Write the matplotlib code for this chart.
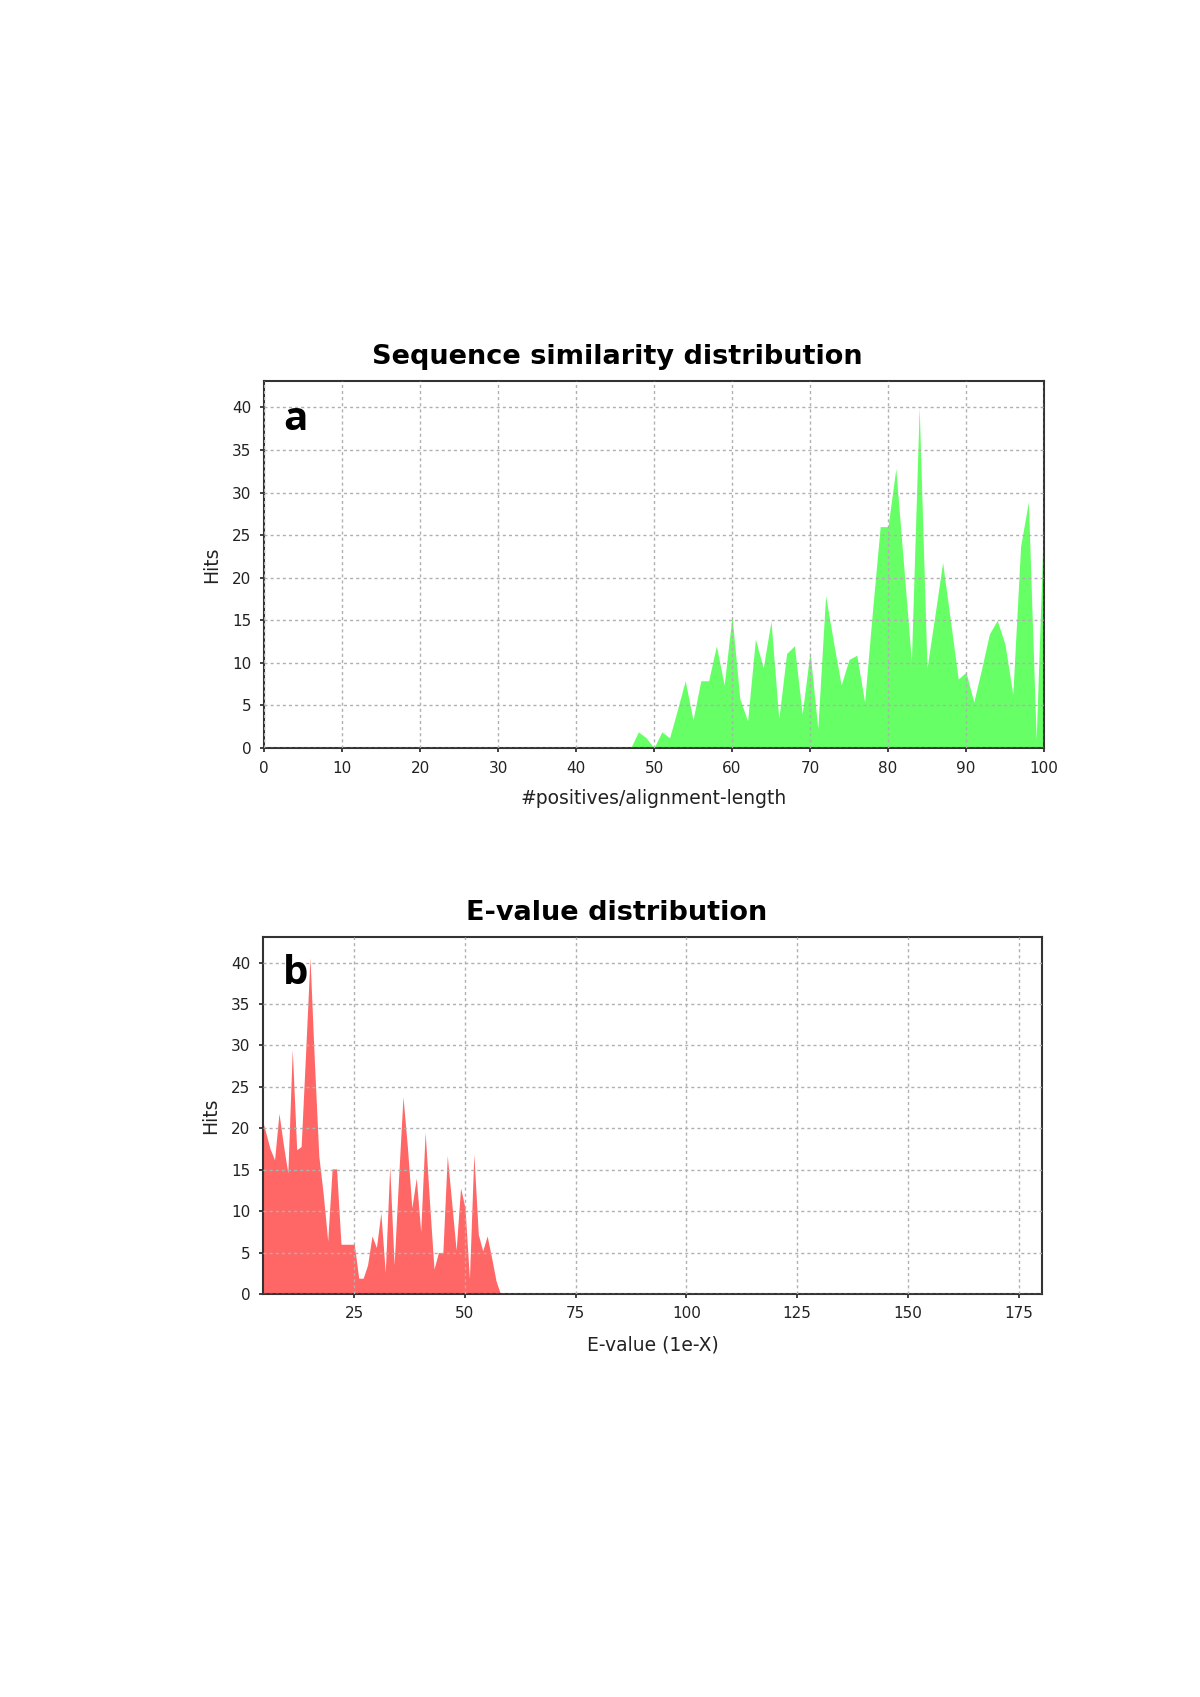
import numpy as np
import matplotlib
matplotlib.use("Agg")
import matplotlib.pyplot as plt

# 数据：相似度分布 (a)
sim_x = list(range(47, 101))
sim_hits = [0, 1.9, 1.2, 0, 1.9, 1.2, 4.5, 7.9, 3.3, 7.9,
            7.9, 12, 7.4, 15.5, 5.8, 3.2, 12.8, 9.4, 14.9, 3.4,
            11.1, 12, 4, 11.3, 2.3, 17.9, 12.5, 7.4, 10.4, 10.9,
            5.4, 16, 26, 26, 32.8, 21.5, 10.2, 40, 9.4, 15.5,
            21.8, 15, 8.1, 8.9, 5.4, 9.3, 13.4, 15, 12.2, 6.3,
            23.7, 28.9, 1, 28.2]

# 数据：E-value 分布 (b)
ev_x = list(range(4, 59))
ev_hits = [21.5, 19.5, 17.5, 16.2, 21.8, 18, 14.6, 29.5, 17.4, 17.8,
           29, 40.6, 28, 16.6, 12, 6.4, 15.1, 15.1, 6, 6,
           6, 6, 1.9, 1.9, 3.5, 7, 5.6, 9.8, 2.6, 15.4,
           3.5, 14, 23.8, 17.7, 10.4, 14, 7.5, 19.5, 11, 3,
           5, 5, 16.7, 11, 5.3, 12.8, 10.4, 1.8, 16.9, 7.2,
           5.2, 7, 4.4, 1.6, 0]

sim_xticks = list(range(0, 101, 10))
ev_xticks = [25, 50, 75, 100, 125, 150, 175]
yticks = list(range(0, 41, 5))

fig = plt.figure(figsize=(12, 16.97), dpi=100)


def style_axes(ax, xticks, xlim):
    ax.set_xlim(*xlim)
    ax.set_ylim(0, 43.1)
    ax.set_xticks(xticks)
    ax.set_yticks(yticks)
    ax.set_axisbelow(False)
    ax.grid(True, color="#b0b0b0", linewidth=1.0, linestyle=(0, (2.2, 2.2)))
    for s in ax.spines.values():
        s.set_color("#333333")
        s.set_linewidth(1.5)
    ax.tick_params(direction="out", length=3, width=1.3, color="#333333",
                   labelsize=11, pad=6, labelcolor="#222222")


# 面板 a
ax1 = fig.add_axes([0.22, 0.5592, 0.65, 0.2163])
ax1.fill_between(sim_x, sim_hits, 0, color="#66ff66", linewidth=0, zorder=1)
style_axes(ax1, sim_xticks, (0, 100))
ax1.set_xlabel("#positives/alignment-length", fontsize=13.5, labelpad=10, color="#222222")
ax1.set_ylabel("Hits", fontsize=13.5, labelpad=8, color="#222222")
ax1.annotate("Sequence similarity distribution", xy=(0.4526, 1), xycoords="axes fraction",
             xytext=(0, 12), textcoords="offset points", ha="center", va="baseline",
             fontsize=19.5, fontweight="bold")
ax1.text(0.0244, 0.8665, "a", transform=ax1.transAxes, ha="left", va="baseline",
         fontsize=29, fontweight="bold", family=["Open Sans", "DejaVu Sans"], zorder=5)

# 面板 b
ax2 = fig.add_axes([0.2192, 0.2375, 0.6492, 0.2104])
ax2.fill_between(ev_x, ev_hits, 0, color="#ff6666", linewidth=0, zorder=1)
style_axes(ax2, ev_xticks, (4.4, 180.3))
ax2.set_xlabel("E-value (1e-X)", fontsize=13.5, labelpad=10, color="#222222")
ax2.set_ylabel("Hits", fontsize=13.5, labelpad=8, color="#222222")
ax2.annotate("E-value distribution", xy=(0.454, 1), xycoords="axes fraction",
             xytext=(0, 12), textcoords="offset points", ha="center", va="baseline",
             fontsize=19.5, fontweight="bold")
ax2.text(0.0253, 0.868, "b", transform=ax2.transAxes, ha="left", va="baseline",
         fontsize=29, fontweight="bold", family=["Open Sans", "DejaVu Sans"], zorder=5)

fig.savefig("out.png", dpi=100)
